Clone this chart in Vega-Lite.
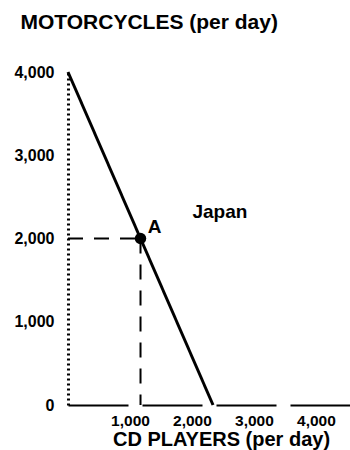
{
  "$schema": "https://vega.github.io/schema/vega-lite/v6.json",
  "width": 282,
  "height": 333,
  "autosize": "none",
  "padding": {"left": 68, "top": 72, "right": 0, "bottom": 45},
  "background": "white",
  "config": {
    "view": {"stroke": null},
    "font": "Liberation Sans",
    "axis": {"labelColor": "black", "titleColor": "black", "labelFont": "Liberation Sans", "titleFont": "Liberation Sans"}
  },
  "datasets": {
    "curve": [{"x": 0, "y": 4000}, {"x": 2340, "y": 0}],
    "guides": [
      {"g": "h", "x": 0, "y": 2000},
      {"g": "h", "x": 1170, "y": 2000},
      {"g": "v", "x": 1170, "y": 2000},
      {"g": "v", "x": 1170, "y": 0}
    ],
    "pointA": [{"x": 1170, "y": 2000, "label": "A"}],
    "labels": [{"x": 2450, "y": 2320, "label": "Japan"}]
  },
  "layer": [
    {
      "data": {"name": "guides"},
      "mark": {"type": "line", "color": "black", "strokeWidth": 2, "strokeDash": [15, 11]},
      "encoding": {
        "x": {"field": "x", "type": "quantitative", "scale": {"domain": [0, 4550], "nice": false},
          "axis": {
            "values": [1000, 2000, 3000, 4000], "format": ",d", "ticks": false, "grid": false,
            "domainDash": [60, 14], "domainWidth": 2, "domainColor": "black",
            "labelFontSize": 15.5, "labelFontWeight": "bold", "labelPadding": 20, "labelBaseline": "alphabetic", "labelDx": -2,
            "title": "CD PLAYERS (per day)", "titleFontSize": 20, "titleFontWeight": "bold",
            "titleX": 153, "titleY": 40, "titleBaseline": "alphabetic", "titleAlign": "center"
          }},
        "y": {"field": "y", "type": "quantitative", "scale": {"domain": [0, 4000], "nice": false},
          "axis": {
            "values": [0, 1000, 2000, 3000, 4000], "format": ",d", "ticks": false, "grid": false,
            "domainDash": [2, 3], "domainWidth": 3, "domainColor": "black",
            "labelFontSize": 16, "labelFontWeight": "bold", "labelPadding": 14,
            "title": "MOTORCYCLES (per day)", "titleAngle": 0, "titleAlign": "left", "titleBaseline": "alphabetic",
            "titleX": -48, "titleY": -44, "titleFontSize": 21, "titleFontWeight": "bold"
          }},
        "detail": {"field": "g"}
      }
    },
    {
      "data": {"name": "curve"},
      "mark": {"type": "line", "color": "black", "strokeWidth": 3},
      "encoding": {
        "x": {"field": "x", "type": "quantitative"},
        "y": {"field": "y", "type": "quantitative"}
      }
    },
    {
      "data": {"name": "pointA"},
      "mark": {"type": "point", "filled": true, "color": "black", "size": 130, "opacity": 1},
      "encoding": {
        "x": {"field": "x", "type": "quantitative"},
        "y": {"field": "y", "type": "quantitative"}
      }
    },
    {
      "data": {"name": "pointA"},
      "mark": {"type": "text", "fontSize": 19, "fontWeight": "bold", "dx": 14, "dy": -12, "color": "black"},
      "encoding": {
        "x": {"field": "x", "type": "quantitative"},
        "y": {"field": "y", "type": "quantitative"},
        "text": {"field": "label"}
      }
    },
    {
      "data": {"name": "labels"},
      "mark": {"type": "text", "fontSize": 19, "fontWeight": "bold", "color": "black"},
      "encoding": {
        "x": {"field": "x", "type": "quantitative"},
        "y": {"field": "y", "type": "quantitative"},
        "text": {"field": "label"}
      }
    }
  ]
}
